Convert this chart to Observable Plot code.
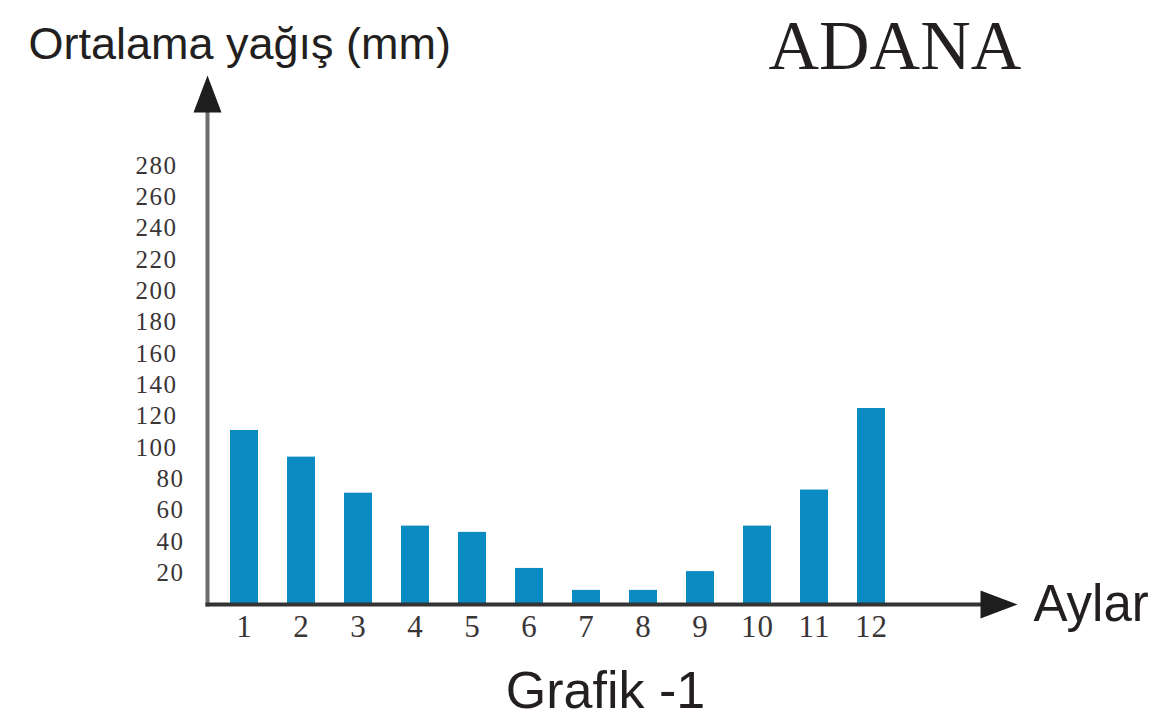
<!DOCTYPE html>
<html>
<head>
<meta charset="utf-8">
<script src="https://cdn.jsdelivr.net/npm/d3@7"></script>
<script src="https://cdn.jsdelivr.net/npm/@observablehq/plot@0.6"></script>
<style>
  html, body { margin: 0; padding: 0; background: #fff; }
  #chart svg { display: block; }
  #chart svg g[aria-label="y-axis tick label"] text { letter-spacing: 1.5px; }
  #chart svg g[aria-label="x-axis tick label"] text { letter-spacing: 1px; }
</style>
</head>
<body>
<div id="chart"></div>
<script>
// Data
const months = ["1", "2", "3", "4", "5", "6", "7", "8", "9", "10", "11", "12"];
const rainfall = [111, 94, 71, 50, 46, 23, 9, 9, 21, 50, 73, 125];
const ticksLow = [20, 40, 60, 80];
const ticksHigh = [100, 120, 140, 160, 180, 200, 220, 240, 260, 280];
const yTitle = "Ortalama yağış (mm)";
const cityTitle = "ADANA";
const xTitle = "Aylar";
const caption = "Grafik -1";

const data = months.map((m, i) => ({month: m, value: rainfall[i]}));

const ink = "#231f20";
const serif = "'Liberation Serif', 'Times New Roman', serif";
const sans = "'Liberation Sans', Arial, sans-serif";

// narrow arrowhead symbol (tip up)
const arrowHead = {
  draw(context) {
    context.moveTo(0, -25);
    context.lineTo(14, 12);
    context.lineTo(-14, 12);
    context.closePath();
  }
};

const chart = Plot.plot({
  width: 1162,
  height: 724,
  marginLeft: 207,
  marginRight: 170,
  marginTop: 100,
  marginBottom: 120,
  style: {background: "#fff"},
  x: {type: "band", domain: months, range: [212.2, 902.8], paddingInner: 0.513, paddingOuter: 0.2565, axis: null},
  y: {domain: [0, 280], range: [604, 165], axis: null},
  marks: [
    Plot.barY(data, {x: "month", y: "value", fill: "#0a8bc2"}),
    Plot.frame({anchor: "left", stroke: "#6e6e6e", strokeWidth: 4}),
    Plot.frame({anchor: "bottom", stroke: "#333", strokeWidth: 4}),
    Plot.dot([0], {frameAnchor: "top-left", symbol: arrowHead, fill: "#1e1e1e", stroke: "none"}),
    Plot.dot([0], {frameAnchor: "bottom-right", symbol: arrowHead, rotate: 90, fill: "#1e1e1e", stroke: "none"}),
    Plot.axisY(ticksHigh, {anchor: "left", tickSize: 0, tickPadding: 30, fontSize: 25, fontFamily: serif, fill: "#3a3536", label: null}),
    Plot.axisY(ticksLow, {anchor: "left", tickSize: 0, tickPadding: 23, fontSize: 25, fontFamily: serif, fill: "#3a3536", label: null}),
    Plot.axisX({anchor: "bottom", tickSize: 0, tickPadding: 10, fontSize: 31, fontFamily: serif, fill: "#3a3536", label: null}),
    Plot.text([yTitle], {text: d => d, frameAnchor: "top-left", dx: -179, dy: -42, textAnchor: "start", lineAnchor: "bottom", fontSize: 45, fontFamily: sans, fill: ink}),
    Plot.text([cityTitle], {text: d => d, frameAnchor: "top-left", dx: 561, dy: -32, textAnchor: "start", lineAnchor: "bottom", fontSize: 70, fontFamily: serif, fill: ink}),
    Plot.text([xTitle], {text: d => d, frameAnchor: "bottom-right", dx: 41, dy: 16, textAnchor: "start", lineAnchor: "bottom", fontSize: 51, fontFamily: sans, fill: ink}),
    Plot.text([caption], {text: d => d, frameAnchor: "bottom-left", dx: 398, dy: 103, textAnchor: "middle", lineAnchor: "bottom", fontSize: 52, fontFamily: sans, fill: ink})
  ]
});

document.getElementById("chart").appendChild(chart);
</script>
</body>
</html>
